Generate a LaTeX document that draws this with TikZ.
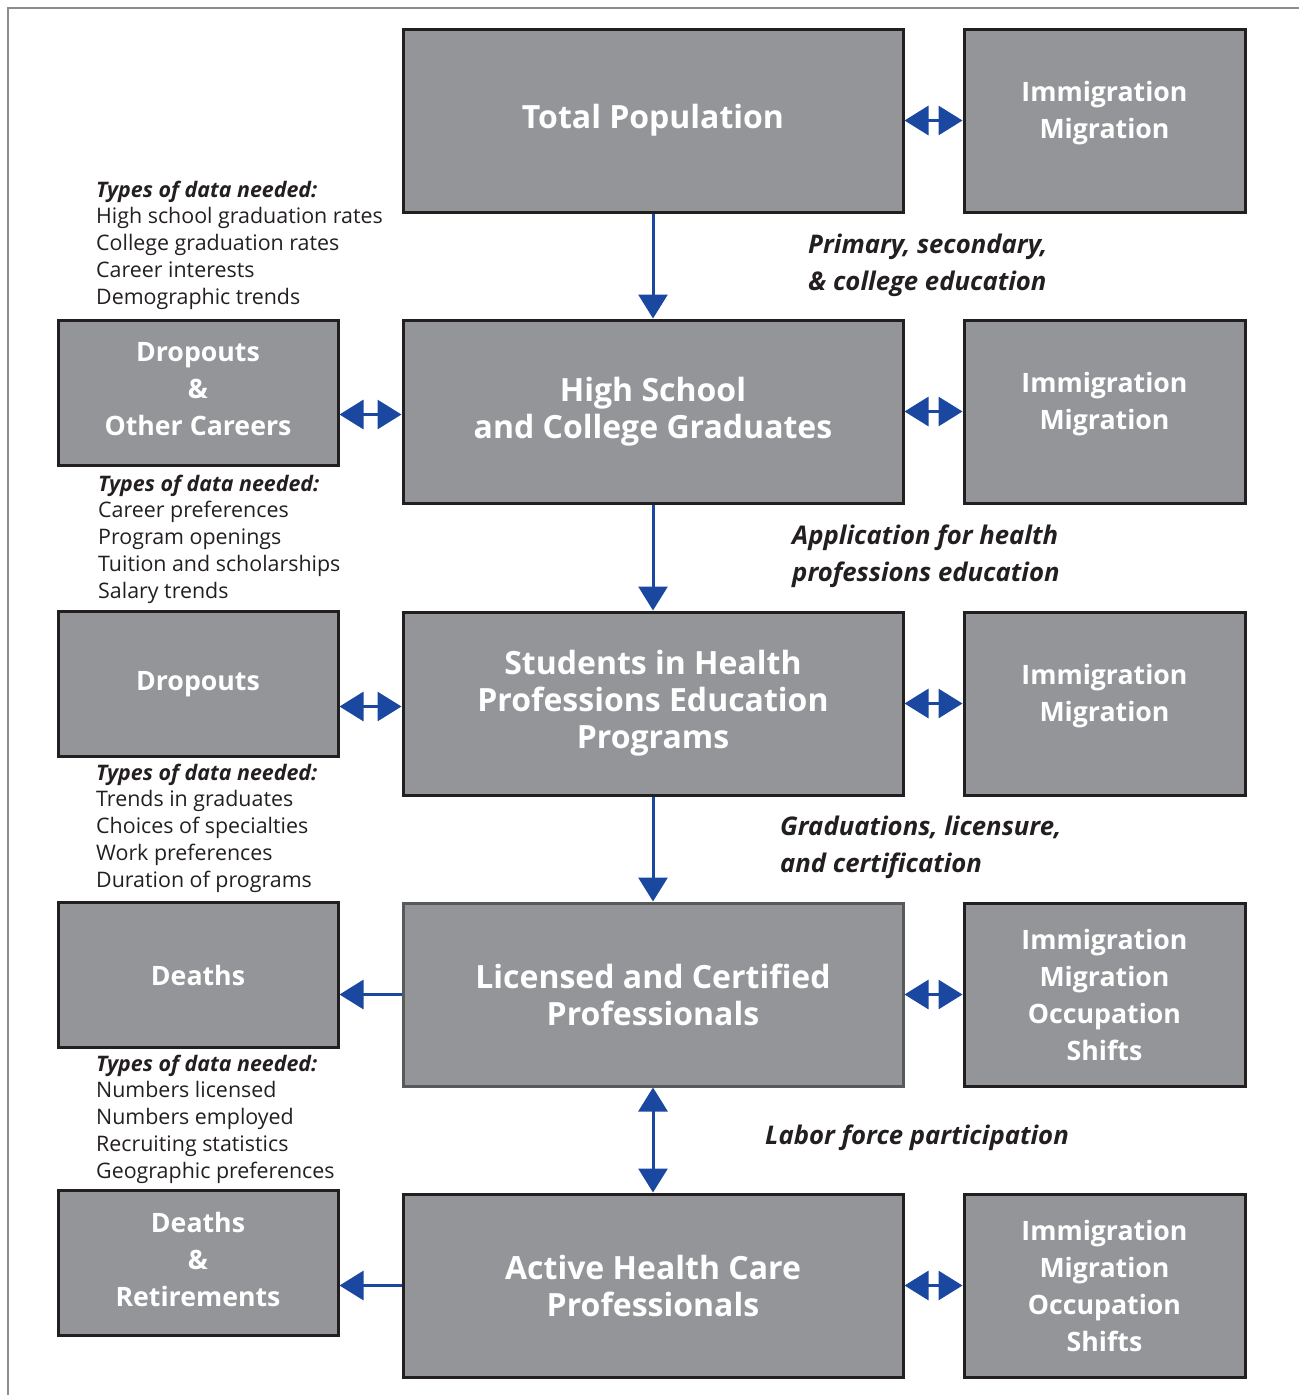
\documentclass[tikz,border=0pt]{standalone}
\usepackage{fontspec}
\setmainfont{Open Sans}
\usetikzlibrary{arrows.meta,calc}
\definecolor{boxgray}{RGB}{147,149,152}
\definecolor{boxline}{RGB}{35,31,32}
\definecolor{boxlinelight}{RGB}{88,89,91}
\definecolor{arrowblue}{RGB}{26,71,160}
\definecolor{txtdark}{RGB}{35,31,32}
\definecolor{framegray}{RGB}{140,140,140}
\tikzset{
  mainbox/.style={draw=boxline, line width=3pt, fill=boxgray, minimum width=500pt, minimum height=183pt,
    inner sep=0pt, align=center, text=white, font=\bfseries\fontsize{32}{37}\selectfont},
  sidebox/.style={mainbox, minimum width=281pt, font=\bfseries\fontsize{26.7}{37}\selectfont},
  leftbox/.style={mainbox, minimum width=280pt, minimum height=145pt, font=\bfseries\fontsize{26.7}{37}\selectfont},
  flow/.style={draw=arrowblue, line width=3pt, -{Triangle[length=24pt,width=29pt]}},
  flowboth/.style={draw=arrowblue, line width=3pt, {Triangle[length=24pt,width=29pt]}-{Triangle[length=24pt,width=29pt]}},
  datatext/.style={anchor=base west, inner sep=0pt, align=left, text=txtdark, font=\fontsize{21.4}{26.75}\selectfont},
  steplabel/.style={anchor=base west, inner sep=0pt, align=left, text=txtdark, font=\bfseries\itshape\fontsize{25.7}{37}\selectfont},
}
\begin{document}
\begin{tikzpicture}[x=1pt,y=-1pt]
\useasboundingbox (0,0) rectangle (1299,1395);
\draw[framegray, line width=1.5pt] (8,1395) -- (8,8) -- (1299,8);

% center column
\node[mainbox] (c1) at (653,120.5) {Total Population};
\node[mainbox] (c2) at (653,411.5) {High School\\and College Graduates};
\node[mainbox] (c3) at (653,703.5) {Students in Health\\Professions Education\\Programs};
\node[mainbox, draw=boxlinelight] (c4) at (653,994.5) {Licensed and Certified\\Professionals};
\node[mainbox] (c5) at (653,1285.5) {Active Health Care\\Professionals};

% right column
\node[sidebox, text depth=22pt] (r1) at (1104.5,120.5) {Immigration\\Migration};
\node[sidebox, text depth=22pt] (r2) at (1104.5,411.5) {Immigration\\Migration};
\node[sidebox, text depth=22pt] (r3) at (1104.5,703.5) {Immigration\\Migration};
\node[sidebox] (r4) at (1104.5,994.5) {Immigration\\Migration\\Occupation\\Shifts};
\node[sidebox] (r5) at (1104.5,1285.5) {Immigration\\Migration\\Occupation\\Shifts};

% left column
\node[leftbox, text depth=8pt] (l2) at (198,392.5) {Dropouts\\\&\\Other Careers};
\node[leftbox] (l3) at (198,684) {Dropouts};
\node[leftbox] (l4) at (198,975) {Deaths};
\node[leftbox, text depth=8pt] (l5) at (198,1263) {Deaths\\\&\\Retirements};

% vertical arrows
\draw[flow] (c1.south) -- (c2.north);
\draw[flow] (c2.south) -- (c3.north);
\draw[flow] (c3.south) -- (c4.north);
\draw[flowboth] (c4.south) -- (c5.north);

% right arrows
\draw[flowboth] (c1.east) -- (r1.west);
\draw[flowboth] (c2.east) -- (r2.west);
\draw[flowboth] (c3.east) -- (r3.west);
\draw[flowboth] (c4.east) -- (r4.west);
\draw[flowboth] (c5.east) -- (r5.west);

% left arrows
\draw[flowboth] ([yshift=-3pt]c2.west) -- ([yshift=-3pt]c2.west -| l2.east);
\draw[flowboth] ([yshift=-3pt]c3.west) -- ([yshift=-3pt]c3.west -| l3.east);
\draw[flow] (c4.west) -- (c4.west -| l4.east);
\draw[flow] (c5.west) -- (c5.west -| l5.east);

% data texts (base anchor = last line)
\node[datatext] (d1) at (96,304) {\textbf{\textit{Types of data needed:}}\\High school graduation rates\\College graduation rates\\Career interests\\Demographic trends};
\node[datatext] (d2) at (98,598) {\textbf{\textit{Types of data needed:}}\\Career preferences\\Program openings\\Tuition and scholarships\\Salary trends};
\node[datatext] (d3) at (96,887) {\textbf{\textit{Types of data needed:}}\\Trends in graduates\\Choices of specialties\\Work preferences\\Duration of programs};
\node[datatext] (d4) at (96,1178) {\textbf{\textit{Types of data needed:}}\\Numbers licensed\\Numbers employed\\Recruiting statistics\\Geographic preferences};

% step labels
\node[steplabel] (s1) at (808,290) {Primary, secondary,\\\& college education};
\node[steplabel] (s2) at (792,581) {Application for health\\professions education};
\node[steplabel] (s3) at (780,872) {Graduations, licensure,\\and certification};
\node[steplabel] (s4) at (765,1144) {Labor force participation};
\end{tikzpicture}
\end{document}
